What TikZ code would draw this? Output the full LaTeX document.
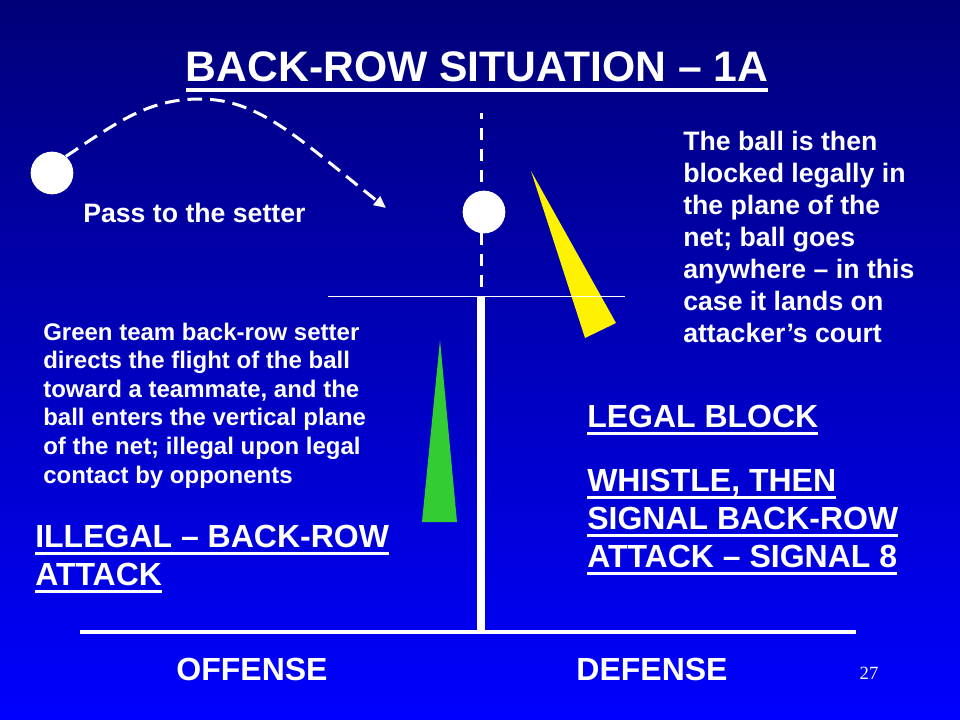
\documentclass[tikz,border=0pt]{standalone}
\usepackage{fontspec}
\setmainfont{Liberation Sans}
\newfontfamily\slidenum{Liberation Serif}
\usetikzlibrary{arrows.meta}
\definecolor{blockgreen}{RGB}{51,204,51}

\newsavebox{\ulsave}
\newcommand{\ulined}[1]{\sbox{\ulsave}{#1}\rlap{\rule[-0.235em]{\wd\ulsave}{0.085em}}\usebox{\ulsave}}

\begin{document}
\begin{tikzpicture}[x=0.75pt,y=-0.75pt,
        ball/.style={circle,fill=white,minimum size=32pt,inner sep=0pt},
        txt/.style={text=white,inner sep=0pt,align=left,anchor=base west},
        hline/.style={white,line width=#1}]
        \useasboundingbox (0,0) rectangle (960,720);
        \shade[top color={rgb,255:red,0;green,0;blue,120},bottom color={rgb,255:red,0;green,0;blue,255}] (0,0) rectangle (960,720);
        % title
        \node[txt,anchor=base,font=\fontsize{32}{38}\selectfont\bfseries] (title) at (477,82) {\ulined{BACK-ROW SITUATION -- 1A}};
        % net and court lines
        \coordinate (nettop) at (481,113);
        \coordinate (netband) at (481,296);
        \coordinate (floor) at (481,632);
        \draw[hline=2.25pt,dash pattern=on 9pt off 6.75pt,dash phase=4.5pt] (nettop) -- (netband);
        \draw[hline=6pt] (netband) -- (floor);
        \draw[hline=3pt] (80,632) -- (856,632);
        % blockers
        \fill[yellow] (531,171) -- (616,323) -- (585,338) -- cycle;
        \fill[blockgreen] (440,340) -- (422,522) -- (457,522) -- cycle;
        \draw[hline=0.75pt] (328,296.5) -- (625,296.5);
        % balls and pass
        \node[ball] (passer) at (52,173) {};
        \node[ball] (setball) at (484,212) {};
        \coordinate (passtop) at (200,99);
        \coordinate (passend) at (386,208);
        \draw[hline=2.25pt,dash pattern=on 11pt off 6pt,-{Triangle[length=9pt,width=8pt]}]
            (passer.50) .. controls (120,120) and (150,99) .. (passtop)
            .. controls (260,99) and (300,140) .. (passend);
        % texts (multi-line nodes sit on their last line)
        \node[txt,font=\fontsize{20}{24}\selectfont\bfseries] (passlbl) at (83,223) {Pass to the setter};
        \node[txt,font=\fontsize{20}{23.9}\selectfont\bfseries] (blocknote) at (683,342)
            {The ball is then\\blocked legally in\\the plane of the\\net; ball goes\\anywhere -- in this\\case it lands on\\attacker’s court};
        \node[txt,font=\fontsize{18}{21.45}\selectfont\bfseries] (setnote) at (43,483)
            {Green team back-row setter\\directs the flight of the ball\\toward a teammate, and the\\ball enters the vertical plane\\of the net; illegal upon legal\\contact by opponents};
        \node[txt,font=\fontsize{24}{28.5}\selectfont\bfseries] (legal) at (587,427) {\ulined{LEGAL BLOCK}};
        \node[txt,font=\fontsize{24}{28.5}\selectfont\bfseries] (whistle) at (587,567)
            {\ulined{WHISTLE, THEN}\\\ulined{SIGNAL BACK-ROW}\\\ulined{ATTACK -- SIGNAL 8}};
        \node[txt,font=\fontsize{24}{28.5}\selectfont\bfseries] (illegal) at (35,585)
            {\ulined{ILLEGAL -- BACK-ROW}\\\ulined{ATTACK}};
        \node[txt,anchor=base,font=\fontsize{24}{28}\selectfont\bfseries] (offense) at (252,680) {OFFENSE};
        \node[txt,anchor=base,font=\fontsize{24}{28}\selectfont\bfseries] (defense) at (652,680) {DEFENSE};
        \node[txt,anchor=base,font=\fontsize{14}{16}\slidenum] (pageno) at (869,679) {27};
    \end{tikzpicture}
\end{document}
